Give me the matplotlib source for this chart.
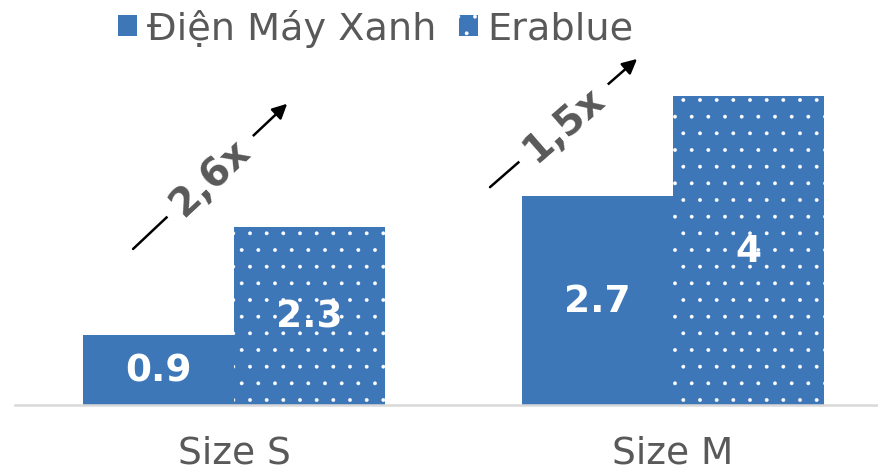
import numpy as np
import matplotlib
matplotlib.use('Agg')
import matplotlib.pyplot as plt

# data
categories = ['Size S', 'Size M']
series_names = ['Điện Máy Xanh', 'Erablue']
dmx_values = [0.9, 2.7]
erablue_values = [2.3, 4]

# layout of the growth arrows (data coords, one per group)
arrow_start = [(-0.23, 2.02), (0.583, 2.82)]
arrow_end = [(0.121, 3.90), (0.918, 4.48)]

BLUE = '#3D77B8'
GREY = '#595959'

plt.rcParams['font.family'] = ['DejaVu Sans']
plt.rcParams['hatch.color'] = 'white'
plt.rcParams['hatch.linewidth'] = 0.3

W, H = 879, 477
fig = plt.figure(figsize=(W / 100, H / 100), dpi=100)
ax = fig.add_axes([15 / W, 71 / H, 864 / W, 406 / H])

x = np.arange(len(categories))
width = 0.344

b1 = ax.bar(x - width / 2, dmx_values, width, color=BLUE, linewidth=0,
            label=series_names[0])
b2 = ax.bar(x + width / 2, erablue_values, width, color=BLUE,
            edgecolor='white', linewidth=0, hatch='.', label=series_names[1])

ax.set_xlim(-0.499, 1.469)
ax.set_ylim(0, 406 / 77.25)

# value labels in the middle of each bar
for bars, vals in [(b1, dmx_values), (b2, erablue_values)]:
    for rect, v in zip(bars, vals):
        ax.text(rect.get_x() + rect.get_width() / 2, v / 2, f'{v:g}',
                ha='center', va='center', color='white', fontsize=27,
                fontweight='bold')

# growth arrows with ratio text
for i in range(len(categories)):
    ratio = erablue_values[i] / dmx_values[i]
    label = f'{ratio:.1f}x'.replace('.', ',')
    (x0, y0), (x1, y1) = arrow_start[i], arrow_end[i]
    ax.annotate('', xy=(x1, y1), xytext=(x0, y0),
                arrowprops=dict(arrowstyle='-|>', color='black', lw=1.8,
                                mutation_scale=22, shrinkA=0, shrinkB=0))
    p0 = ax.transData.transform((x0, y0))
    p1 = ax.transData.transform((x1, y1))
    angle = np.degrees(np.arctan2(p1[1] - p0[1], p1[0] - p0[0]))
    ax.text((x0 + x1) / 2, (y0 + y1) / 2, label, rotation=angle,
            rotation_mode='anchor', ha='center', va='center',
            fontsize=28, fontweight='bold', color=GREY, zorder=5,
            bbox=dict(boxstyle='square,pad=0.3', facecolor='white',
                      edgecolor='none'))

# axes styling
for side in ['top', 'right', 'left']:
    ax.spines[side].set_visible(False)
ax.spines['bottom'].set_color('#D9D9D9')
ax.spines['bottom'].set_linewidth(1.8)
ax.set_yticks([])
ax.set_xticks(x)
ax.set_xticklabels(categories, fontsize=27, color=GREY)
ax.tick_params(axis='x', length=0, pad=21)

fig.legend(handles=[b1, b2], labels=series_names, loc='center',
           bbox_to_anchor=(376 / W, 1 - 29 / H), ncol=2, frameon=False,
           fontsize=27.5, labelcolor=GREY, handlelength=0.5,
           handleheight=0.5, handletextpad=0.25, columnspacing=0.6)

fig.savefig('out.png', dpi=100)
